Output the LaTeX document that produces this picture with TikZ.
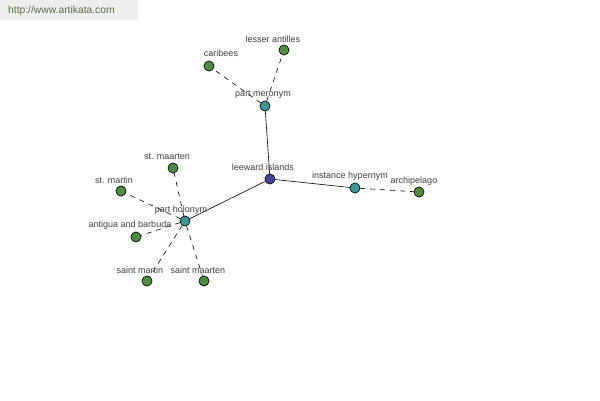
\documentclass[tikz,border=0pt]{standalone}
\usepackage{fontspec}
\setmainfont{Liberation Sans}
\begin{document}
\begin{tikzpicture}[x=1pt,y=-1pt,
  dot/.style={circle,draw=black,line width=0.5pt,minimum size=10pt,inner sep=0pt},
  leaf/.style={dot,fill=leafc},
  rel/.style={dot,fill=relc},
  root/.style={dot,fill=rootc},
  lbl/.style={font=\fontsize{9}{10}\selectfont,text=txtc,inner sep=0pt},
  solidedge/.style={draw=black,line width=0.6pt},
  dashedge/.style={draw=black,line width=0.6pt,dash pattern=on 5pt off 5pt}]
\definecolor{leafc}{HTML}{4E8C40}
\definecolor{relc}{HTML}{3E9696}
\definecolor{rootc}{HTML}{454595}
\definecolor{txtc}{HTML}{404040}
\definecolor{hdrbg}{HTML}{EEEEEE}
\definecolor{hdrtx}{HTML}{5A6E4A}
\useasboundingbox (0,0) rectangle (600,400);
\fill[white] (0,0) rectangle (600,400);
\fill[hdrbg] (0,0) rectangle (138,20);
\node[font=\fontsize{10.3}{12}\selectfont,text=hdrtx,anchor=west,inner sep=0pt] (hdr) at (8,11) {http://www.artikata.com};
% nodes
\node[root] (li) at (270,179) {};
\node[rel] (pm) at (265,106) {};
\node[rel] (ph) at (185,221) {};
\node[rel] (ih) at (355,188) {};
\node[leaf] (car) at (209,66) {};
\node[leaf] (la) at (284,50) {};
\node[leaf] (sm1) at (173,168) {};
\node[leaf] (stm) at (121,191) {};
\node[leaf] (ab) at (136,237) {};
\node[leaf] (smn) at (147,281) {};
\node[leaf] (smr) at (204,281) {};
\node[leaf] (arc) at (419,192) {};
% edges
\draw[solidedge] (li) -- (pm);
\draw[solidedge] (li) -- (ph);
\draw[solidedge] (li) -- (ih);
\draw[dashedge] (pm) -- (car);
\draw[dashedge] (pm) -- (la);
\draw[dashedge] (ph) -- (sm1);
\draw[dashedge] (ph) -- (stm);
\draw[dashedge] (ph) -- (ab);
\draw[dashedge] (ph) -- (smn);
\draw[dashedge] (ph) -- (smr);
\draw[dashedge] (ih) -- (arc);
% redraw nodes on top
\foreach \n/\s in {li/root,pm/rel,ph/rel,ih/rel,car/leaf,la/leaf,sm1/leaf,stm/leaf,ab/leaf,smn/leaf,smr/leaf,arc/leaf}
  \node[\s] at (\n) {};
% labels
\node[lbl] (tli) at (263,167) {leeward islands};
\node[lbl] (tpm) at (263,95) {part meronym};
\node[lbl] (tph) at (181,210) {part holonym};
\node[lbl] (tih) at (350,176) {instance hypernym};
\node[lbl] (tcar) at (221,53) {caribees};
\node[lbl] (tla) at (273,39) {lesser antilles};
\node[lbl] (tsm1) at (167,157) {st. maarten};
\node[lbl] (tstm) at (114,180) {st. martin};
\node[lbl] (tab) at (130,225) {antigua and barbuda};
\node[lbl] (tsmn) at (140,270) {saint martin};
\node[lbl] (tsmr) at (198,270) {saint maarten};
\node[lbl] (tarc) at (414,181) {archipelago};
\end{tikzpicture}
\end{document}
